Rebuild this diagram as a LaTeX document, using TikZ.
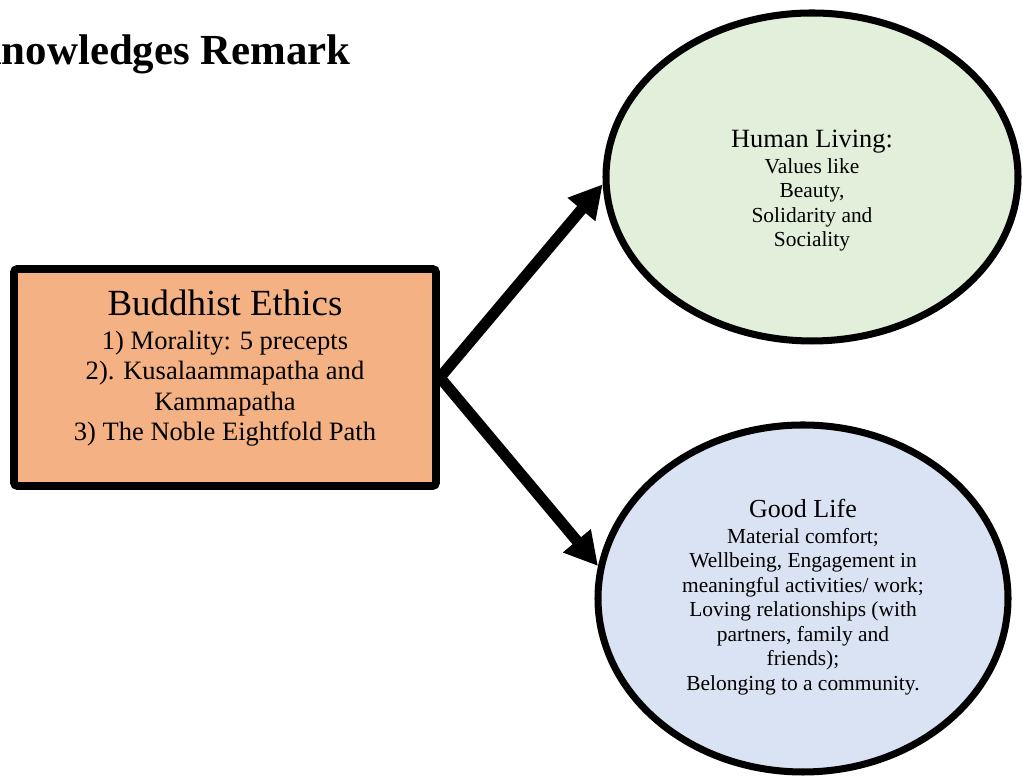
\documentclass[tikz,border=0pt]{standalone}
\usepackage{fontspec}
\setmainfont{Liberation Serif}
\usetikzlibrary{arrows.meta,shapes.geometric}
\definecolor{ethicsorange}{RGB}{244,177,131}
\definecolor{livinggreen}{RGB}{226,239,218}
\definecolor{lifeblue}{RGB}{218,227,243}
\begin{document}
\begin{tikzpicture}[
  bubble/.style={draw,ellipse,line width=4pt,inner sep=0pt},
  flow/.style={line width=6.3pt,-{Triangle[length=0.66cm,width=0.68cm]}},
  bodytext/.style={align=center,font=\fontsize{12.2}{13.9}\selectfont}]
\useasboundingbox (0,0) rectangle (20.46,15.54);
\node[anchor=base east,font=\bfseries\fontsize{24.4}{28}\selectfont] (title) at (7.14,14.24) {Knowledges Remark};
% central box
\node[draw,fill=ethicsorange,line width=4.5pt,rounded corners=2pt,minimum width=8.44cm,minimum height=4.34cm] (ethics) at (4.5,7.99) {};
\node[align=center,font=\fontsize{15.1}{17.2}\selectfont] (ethicstext) at ([yshift=0.19cm]ethics.center)
  {{\fontsize{21}{24}\selectfont Buddhist Ethics}\\[2.3pt]1) Morality: 5 precepts\\2). Kusalaammapatha and\\Kammapatha\\3) The Noble Eightfold Path};
% outcomes
\node[bubble,fill=livinggreen,minimum width=8.24cm,minimum height=6.56cm] (living) at (16.24,12.0) {};
\node[bodytext] (livingtext) at ([yshift=-0.27cm]living.center)
  {{\fontsize{15}{17}\selectfont Human Living:}\\[0.9pt]Values like\\Beauty,\\Solidarity and\\Sociality};
\node[bubble,fill=lifeblue,minimum width=8.2cm,minimum height=6.94cm] (goodlife) at (16.06,3.57) {};
\node[bodytext] (goodlifetext) at ([yshift=0.03cm]goodlife.center)
  {{\fontsize{14.8}{17}\selectfont Good Life}\\[0.8pt]Material comfort;\\Wellbeing, Engagement in\\meaningful activities/ work;\\Loving relationships (with\\partners, family and\\friends);\\Belonging to a community.};
\draw[flow] (ethics.east) -- (living.182);
\draw[flow] (ethics.east) -- (goodlife.171);
\end{tikzpicture}
\end{document}
